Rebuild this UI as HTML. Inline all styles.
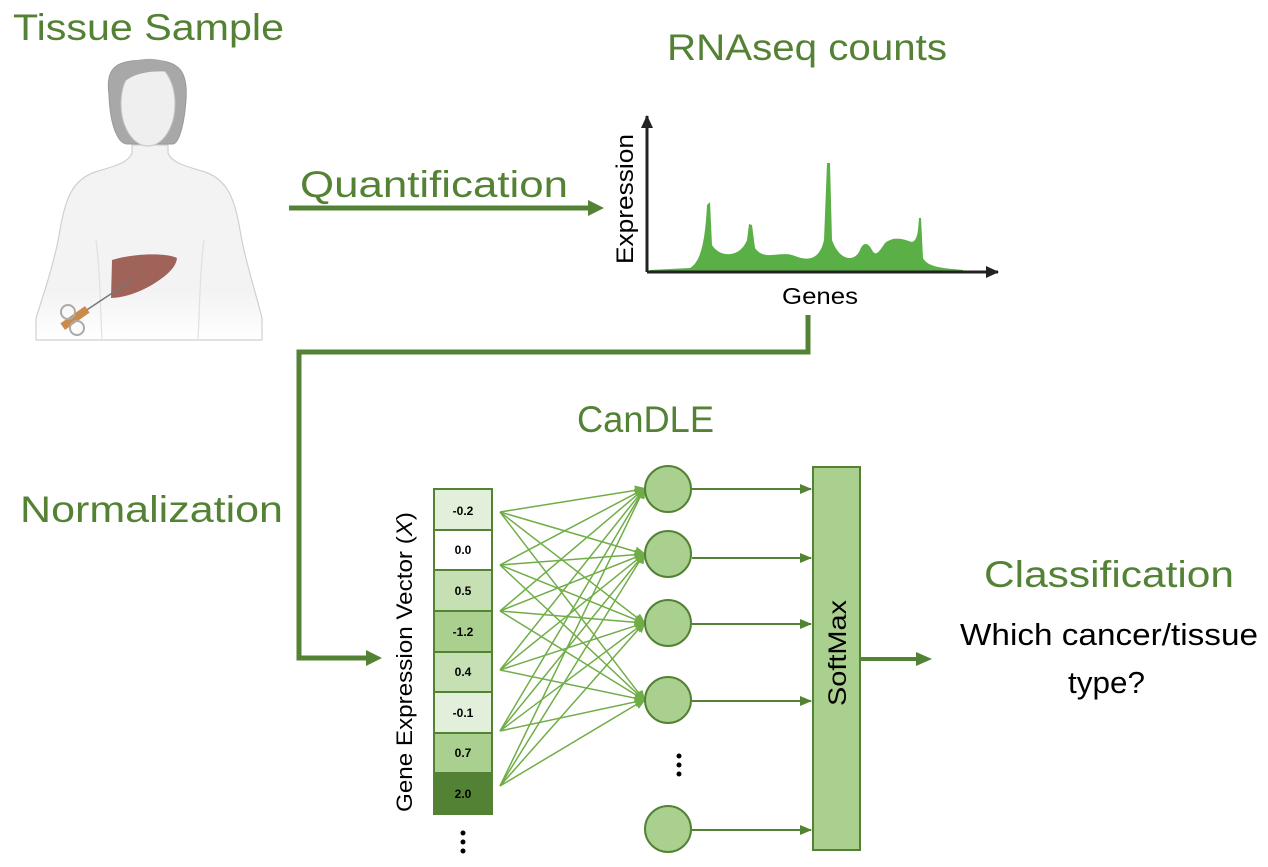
<!DOCTYPE html>
<html><head><meta charset="utf-8"><style>
html,body{margin:0;padding:0;background:#fff;width:1268px;height:867px;overflow:hidden}
svg{display:block}
.g{font-family:"Liberation Sans",sans-serif;fill:#548235;font-size:37px}
.b{font-family:"Liberation Sans",sans-serif;fill:#000}
.c{font-family:"Liberation Sans",sans-serif;font-weight:bold;font-size:12px;fill:#000;text-anchor:middle}
</style></head><body>
<svg width="1268" height="867" viewBox="0 0 1268 867" xmlns="http://www.w3.org/2000/svg">
<defs>
<marker id="al" markerWidth="10" markerHeight="10" refX="9" refY="5" orient="auto" markerUnits="userSpaceOnUse"><path d="M0,0L12,5L0,10z" fill="#70ad47"/></marker>
<marker id="ad" markerWidth="12" markerHeight="12" refX="11" refY="5" orient="auto" markerUnits="userSpaceOnUse"><path d="M0,0L12,5L0,10z" fill="#548235"/></marker>
<marker id="ak" markerWidth="14" markerHeight="14" refX="12" refY="6" orient="auto" markerUnits="userSpaceOnUse"><path d="M0,0L13,6L0,12z" fill="#222"/></marker>
<linearGradient id="fade" x1="0" y1="0" x2="0" y2="1"><stop offset="0.75" stop-color="#f3f3f3"/><stop offset="1" stop-color="#fff"/></linearGradient>
</defs>

<!-- Titles -->
<text class="g" x="13" y="40" textLength="271" lengthAdjust="spacingAndGlyphs">Tissue Sample</text>
<text class="g" x="300" y="197" textLength="268" lengthAdjust="spacingAndGlyphs">Quantification</text>
<text class="g" x="667" y="60" textLength="280" lengthAdjust="spacingAndGlyphs">RNAseq counts</text>
<text class="g" x="577" y="432" textLength="137" lengthAdjust="spacingAndGlyphs">CanDLE</text>
<text class="g" x="20" y="522" textLength="263" lengthAdjust="spacingAndGlyphs">Normalization</text>
<text class="g" x="984" y="587" textLength="250" lengthAdjust="spacingAndGlyphs">Classification</text>
<text class="b" x="960" y="645" font-size="31" textLength="298" lengthAdjust="spacingAndGlyphs">Which cancer/tissue</text>
<text class="b" x="1068" y="693" font-size="31" textLength="77" lengthAdjust="spacingAndGlyphs">type?</text>

<!-- Person -->
<g>
<path d="M36,318 C45,290 55,260 60,230 C65,200 72,180 95,172 C115,166 128,163 132,153 L132,145 L168,145 L168,153 C172,163 185,166 205,172 C228,180 235,200 240,230 C245,260 255,290 262,318 L262,340 L36,340 Z" fill="url(#fade)" stroke="#d0d0d0" stroke-width="1.2"/>
<path d="M96,240 C100,270 100,300 102,340 M204,240 C200,270 200,300 198,340" fill="none" stroke="#e0e0e0" stroke-width="1.2"/>
<path d="M109,95 C105,65 118,60 150,60 C180,60 188,72 186,100 C184,128 178,145 172,144 L128,144 C118,145 110,125 109,95 Z" fill="#a8a8a8" stroke="#9a9a9a"/>
<ellipse cx="148" cy="104" rx="27" ry="42" fill="#efefef" stroke="#c4c4c4"/>
<path d="M118,90 C128,72 150,70 176,72 C172,62 160,58 145,59 C125,61 115,72 118,90Z" fill="#a8a8a8"/>
<path d="M112,260 C130,254 165,252 177,258 C176,270 160,280 150,286 C135,294 122,298 111,298 Z" fill="#a0635a"/>
<line x1="64" y1="325" x2="132" y2="280" stroke="#777" stroke-width="1.5"/>
<rect x="60" y="314" width="30" height="8" fill="#c98a4a" transform="rotate(-35 75 318)"/>
<circle cx="68" cy="312" r="7" fill="none" stroke="#aaa" stroke-width="2"/>
<circle cx="77" cy="328" r="7" fill="none" stroke="#aaa" stroke-width="2"/>
</g>

<!-- Quantification arrow -->
<line x1="289" y1="208" x2="590" y2="208" stroke="#548235" stroke-width="5"/>
<polygon points="588,200 604,208 588,216" fill="#548235"/>

<!-- Chart -->
<path d="M650,270 L690,268 C700,262 705,245 707,205 L710,202 L712,245 C720,258 740,258 747,240 L749,224 L752,225 L755,248 C765,262 780,250 795,256 C810,262 820,258 824,240 L827,163 L830,163 L832,240 C840,262 855,262 860,250 C863,242 868,242 872,250 C876,258 880,250 885,243 C895,235 905,240 912,242 C918,240 918,230 919,218 L921,218 L923,258 C928,268 945,268 963,270 L963,272 L650,272Z" fill="#5aaf46"/>
<line x1="647" y1="272" x2="647" y2="116" stroke="#222" stroke-width="3" marker-end="url(#ak)"/>
<line x1="647" y1="272" x2="998" y2="272" stroke="#222" stroke-width="3" marker-end="url(#ak)"/>
<text class="b" x="0" y="0" font-size="24" transform="translate(633,264) rotate(-90)" textLength="130" lengthAdjust="spacingAndGlyphs">Expression</text>
<text class="b" x="782" y="304" font-size="23" textLength="76" lengthAdjust="spacingAndGlyphs">Genes</text>

<!-- Normalization connector -->
<polyline points="808,315 808,352 299,352 299,658 368,658" fill="none" stroke="#548235" stroke-width="5"/>
<polygon points="366,650 382,658 366,666" fill="#548235"/>

<!-- Vector label -->
<text class="b" font-size="22" transform="translate(412,812) rotate(-90)" textLength="300" lengthAdjust="spacingAndGlyphs">Gene Expression Vector (<tspan font-style="italic">X</tspan>)</text>

<!-- Vector cells -->
<g stroke="#548235" stroke-width="2">
<rect x="434" y="489" width="58" height="41" fill="#e2efda"/>
<rect x="434" y="530" width="58" height="40" fill="#ffffff"/>
<rect x="434" y="570" width="58" height="41" fill="#c6e0b4"/>
<rect x="434" y="611" width="58" height="41" fill="#a9d08e"/>
<rect x="434" y="652" width="58" height="40" fill="#c6e0b4"/>
<rect x="434" y="692" width="58" height="41" fill="#e2efda"/>
<rect x="434" y="733" width="58" height="40" fill="#a9d08e"/>
<rect x="434" y="773" width="58" height="41" fill="#548235"/>
</g>
<text class="c" x="463" y="515">-0.2</text>
<text class="c" x="463" y="554">0.0</text>
<text class="c" x="463" y="595">0.5</text>
<text class="c" x="463" y="636">-1.2</text>
<text class="c" x="463" y="676">0.4</text>
<text class="c" x="463" y="717">-0.1</text>
<text class="c" x="463" y="757">0.7</text>
<text class="c" x="463" y="798">2.0</text>
<g fill="#000"><circle cx="463" cy="833" r="2.5"/><circle cx="463" cy="842" r="2.5"/><circle cx="463" cy="851" r="2.5"/></g>

<!-- Fan-out -->
<g stroke="#70ad47" stroke-width="1.5" marker-end="url(#al)">
<line x1="500" y1="512" x2="644" y2="489"/><line x1="500" y1="512" x2="644" y2="554"/><line x1="500" y1="512" x2="644" y2="623"/><line x1="500" y1="512" x2="644" y2="700"/>
<line x1="500" y1="565" x2="644" y2="489"/><line x1="500" y1="565" x2="644" y2="554"/><line x1="500" y1="565" x2="644" y2="623"/><line x1="500" y1="565" x2="644" y2="700"/>
<line x1="500" y1="611" x2="644" y2="489"/><line x1="500" y1="611" x2="644" y2="554"/><line x1="500" y1="611" x2="644" y2="623"/><line x1="500" y1="611" x2="644" y2="700"/>
<line x1="500" y1="670" x2="644" y2="489"/><line x1="500" y1="670" x2="644" y2="554"/><line x1="500" y1="670" x2="644" y2="623"/><line x1="500" y1="670" x2="644" y2="700"/>
<line x1="500" y1="731" x2="644" y2="489"/><line x1="500" y1="731" x2="644" y2="554"/><line x1="500" y1="731" x2="644" y2="623"/><line x1="500" y1="731" x2="644" y2="700"/>
<line x1="500" y1="786" x2="644" y2="489"/><line x1="500" y1="786" x2="644" y2="554"/><line x1="500" y1="786" x2="644" y2="623"/><line x1="500" y1="786" x2="644" y2="700"/>
</g>

<!-- Neurons -->
<g fill="#a9d08e" stroke="#548235" stroke-width="2">
<circle cx="668" cy="489" r="23"/><circle cx="668" cy="554" r="23"/><circle cx="668" cy="623" r="23"/><circle cx="668" cy="700" r="23"/><circle cx="668" cy="829" r="23"/>
</g>
<g fill="#000"><circle cx="679" cy="756" r="2.5"/><circle cx="679" cy="765" r="2.5"/><circle cx="679" cy="774" r="2.5"/></g>
<g stroke="#548235" stroke-width="2" marker-end="url(#ad)">
<line x1="692" y1="489" x2="811" y2="489"/><line x1="692" y1="558" x2="811" y2="558"/><line x1="692" y1="624" x2="811" y2="624"/><line x1="692" y1="701" x2="811" y2="701"/><line x1="692" y1="830" x2="811" y2="830"/>
</g>

<!-- SoftMax -->
<rect x="813" y="467" width="47" height="383" fill="#a9d08e" stroke="#548235" stroke-width="2"/>
<text class="b" font-size="25" transform="translate(846,706) rotate(-90)" textLength="106" lengthAdjust="spacingAndGlyphs">SoftMax</text>
<line x1="860" y1="659" x2="918" y2="659" stroke="#548235" stroke-width="4"/>
<polygon points="916,652 932,659 916,666" fill="#548235"/>
</svg>
</body></html>
